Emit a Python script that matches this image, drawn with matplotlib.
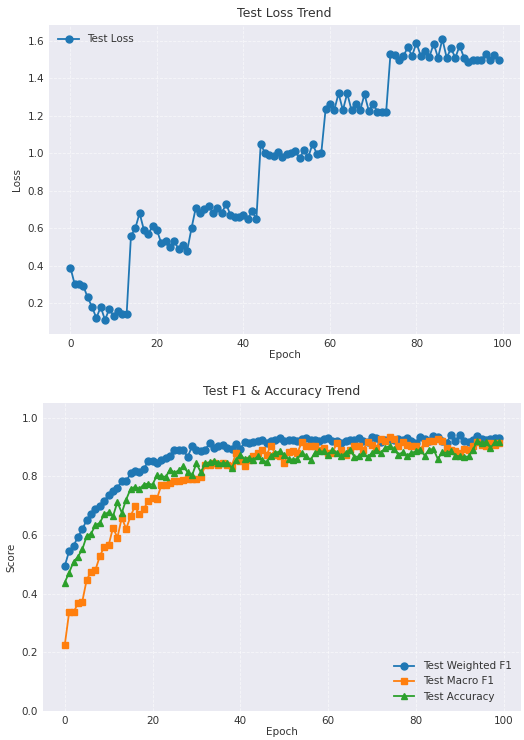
import numpy as np
import matplotlib
matplotlib.use("Agg")
import matplotlib.pyplot as plt

# Test loss per epoch
test_loss = [0.39, 0.30, 0.30, 0.29, 0.23, 0.18, 0.12, 0.18, 0.11, 0.17,
             0.13, 0.16, 0.14, 0.14,
             0.56, 0.60, 0.68, 0.59, 0.57, 0.61, 0.59, 0.52, 0.53, 0.50,
             0.53, 0.49, 0.51, 0.48, 0.60, 0.71, 0.68, 0.70, 0.72, 0.68,
             0.71, 0.68, 0.73, 0.67, 0.66, 0.66, 0.67, 0.65, 0.69, 0.65,
             1.05, 1.00, 0.99, 0.985, 1.005, 0.98, 0.995, 1.00, 1.01, 0.975,
             1.015, 0.98, 1.05, 0.995, 1.00,
             1.235, 1.265, 1.23, 1.32, 1.23, 1.32, 1.23, 1.265, 1.23, 1.315,
             1.225, 1.265, 1.22, 1.22, 1.22,
             1.53, 1.525, 1.50, 1.52, 1.565, 1.52, 1.59, 1.52, 1.545, 1.515,
             1.585, 1.51, 1.61, 1.51, 1.56, 1.51, 1.575, 1.51, 1.49, 1.50,
             1.50, 1.50, 1.53, 1.50, 1.525, 1.50]

weighted_f1 = [0.494, 0.545, 0.562, 0.594, 0.619, 0.651, 0.670, 0.689, 0.700, 0.715,
               0.738, 0.749, 0.761, 0.783, 0.783, 0.810, 0.817, 0.815, 0.826, 0.851,
               0.851, 0.845, 0.854, 0.862, 0.868, 0.891, 0.889, 0.891, 0.866, 0.902,
               0.891, 0.885, 0.891, 0.913, 0.896, 0.904, 0.908, 0.896, 0.893, 0.911,
               0.892, 0.918, 0.913, 0.916, 0.920, 0.925, 0.913, 0.920, 0.925, 0.930,
               0.920,
               0.925, 0.923, 0.920, 0.927, 0.931, 0.925, 0.923, 0.920, 0.927, 0.931,
               0.920, 0.920, 0.914, 0.920, 0.925, 0.925, 0.931, 0.920, 0.916, 0.934,
               0.931, 0.916, 0.925, 0.927, 0.923, 0.927, 0.925, 0.931, 0.920, 0.914,
               0.934, 0.927, 0.920, 0.939, 0.934, 0.920, 0.914, 0.942, 0.920, 0.942,
               0.920, 0.916, 0.925, 0.939, 0.927, 0.923, 0.927, 0.931, 0.931]

macro_f1 = [0.224, 0.336, 0.336, 0.367, 0.373, 0.447, 0.475, 0.481, 0.528, 0.560,
            0.565, 0.625, 0.591, 0.659, 0.621, 0.664, 0.698, 0.670, 0.689, 0.715,
            0.727, 0.724, 0.769, 0.772, 0.778, 0.783, 0.783, 0.789, 0.791, 0.791,
            0.790, 0.798, 0.837, 0.840, 0.844, 0.837, 0.844, 0.837, 0.834, 0.878,
            0.851, 0.834, 0.857, 0.871, 0.880, 0.889, 0.874, 0.905, 0.874, 0.868,
            0.846,
            0.882, 0.885, 0.880, 0.916, 0.905, 0.903, 0.905, 0.891, 0.897, 0.880,
            0.880, 0.914, 0.891, 0.874, 0.891, 0.905, 0.903, 0.891, 0.916, 0.908,
            0.897, 0.927, 0.920, 0.934, 0.927, 0.903, 0.916, 0.908, 0.903, 0.905,
            0.891, 0.914, 0.920, 0.920, 0.927, 0.920, 0.897, 0.891, 0.885, 0.880,
            0.893, 0.891, 0.903, 0.916, 0.908, 0.905, 0.914, 0.908, 0.914]

accuracy = [0.438, 0.472, 0.508, 0.526, 0.551, 0.596, 0.605, 0.633, 0.642, 0.670,
            0.678, 0.664, 0.712, 0.676, 0.721, 0.757, 0.764, 0.757, 0.772, 0.775,
            0.772, 0.803, 0.801, 0.798, 0.823, 0.812, 0.821, 0.834, 0.814, 0.803,
            0.844, 0.814, 0.844, 0.848, 0.851, 0.846, 0.844, 0.846, 0.829, 0.855,
            0.874, 0.859, 0.863, 0.857, 0.868, 0.857, 0.848, 0.871, 0.880, 0.885,
            0.874,
            0.859, 0.857, 0.859, 0.880, 0.868, 0.857, 0.880, 0.885, 0.885, 0.874,
            0.891, 0.880, 0.868, 0.880, 0.891, 0.866, 0.868, 0.880, 0.866, 0.880,
            0.891, 0.880, 0.897, 0.903, 0.893, 0.874, 0.882, 0.871, 0.880, 0.885,
            0.891, 0.871, 0.891, 0.893, 0.859, 0.882, 0.880, 0.885, 0.871, 0.868,
            0.866, 0.868, 0.891, 0.920, 0.914, 0.916, 0.897, 0.916, 0.916]

epochs = np.arange(len(test_loss))

plt.rcParams.update({
    "axes.facecolor": "#EAEAF2",
    "axes.edgecolor": "white",
    "axes.grid": True,
    "grid.color": "white",
    "grid.linestyle": "--",
    "grid.linewidth": 0.6,
    "grid.alpha": 0.6,
    "xtick.major.size": 0,
    "ytick.major.size": 0,
    "xtick.color": "#333333",
    "ytick.color": "#333333",
    "axes.labelcolor": "#333333",
    "text.color": "#333333",
    "font.size": 7.5,
})

fig = plt.figure(figsize=(5.24, 7.4), dpi=100)
W, H = 524, 740

# Loss plot
ax1 = fig.add_axes([49 / W, 1 - 334 / H, (520 - 49) / W, (334 - 25) / H])
ax1.plot(epochs, test_loss, marker="o", markersize=5, linewidth=1.3, label="Test Loss")
ax1.set_title("Test Loss Trend", fontsize=9)
ax1.set_xlabel("Epoch", fontsize=7.5, labelpad=1)
ax1.set_ylabel("Loss", fontsize=7.5)
ax1.legend(loc="upper left", frameon=False, fontsize=7.5)
for s in ax1.spines.values():
    s.set_visible(False)

# F1 & accuracy plot
ax2 = fig.add_axes([43 / W, 1 - 711 / H, (521 - 43) / W, (711 - 403) / H])
ax2.plot(epochs, weighted_f1, marker="o", markersize=5, linewidth=1.3, label="Test Weighted F1")
ax2.plot(epochs, macro_f1, marker="s", markersize=5, linewidth=1.3, label="Test Macro F1")
ax2.plot(epochs, accuracy, marker="^", markersize=5, linewidth=1.3, label="Test Accuracy")
ax2.set_ylim(0, 1.05)
ax2.set_title("Test F1 & Accuracy Trend", fontsize=9)
ax2.set_xlabel("Epoch", fontsize=7.5, labelpad=1)
ax2.set_ylabel("Score", fontsize=7.5)
ax2.legend(loc="lower right", frameon=False, fontsize=7.5)
for s in ax2.spines.values():
    s.set_visible(False)

fig.savefig("out.png", dpi=100, facecolor="white")
